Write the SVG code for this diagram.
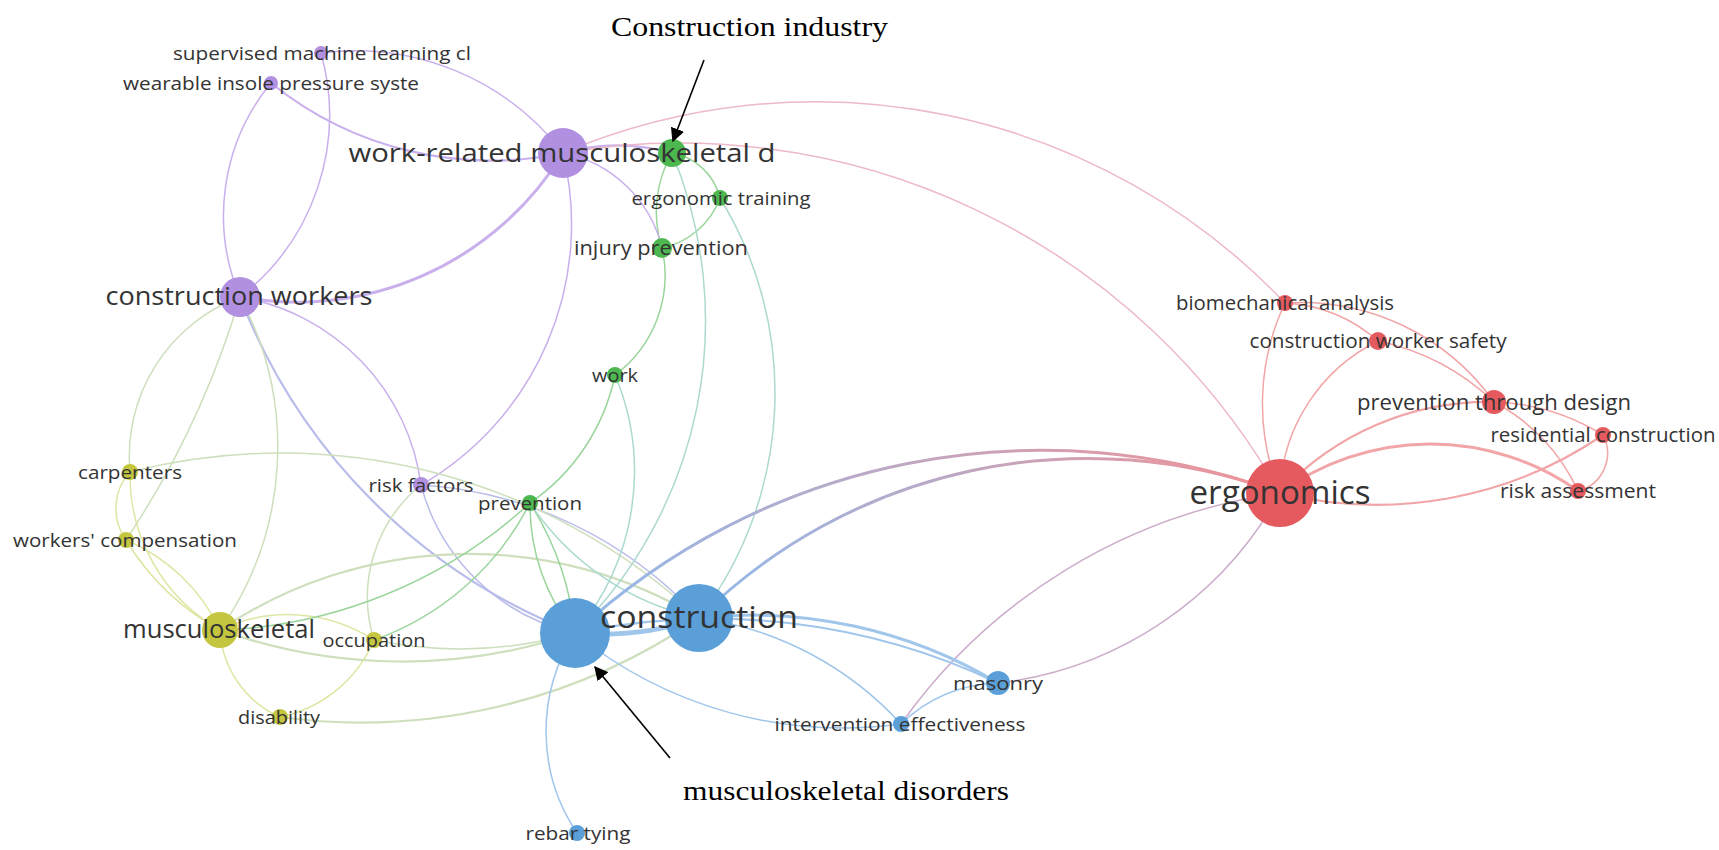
<svg xmlns="http://www.w3.org/2000/svg" width="1719" height="850" viewBox="0 0 1719 850">
<defs>
<style>
.e{fill:none;stroke-width:1.5;stroke-linecap:round}
.p{stroke:#c9b0ec}
.y{stroke:#e0e5a2}
.g{stroke:#9ad59c}
.r{stroke:#f2a5a7}
.b{stroke:#a0c6eb}
.pb{stroke:#b9bdea}
.yb{stroke:#cddfbc}
.gb{stroke:#acd9d0}
.pr{stroke:#edb8c8}
.rb{stroke:#ccaecb}
.w2{stroke-width:2.2}
.w3{stroke-width:3}
.w5{stroke-width:5}
.t{font-family:"Open Sans","DejaVu Sans",sans-serif;fill:#333;text-anchor:middle}
.pn{fill:#b18fe1}
.gn{fill:#4db84f}
.bn{fill:#5b9fd8}
.yn{fill:#c4c640}
.rn{fill:#e45a5f}
.ann{font-family:"Liberation Serif","Times New Roman",serif;fill:#000;font-size:28px}
.arr{stroke:#000;stroke-width:1.6;fill:none}
</style>
<linearGradient id="grb1" gradientUnits="userSpaceOnUse" x1="575" y1="600" x2="1280" y2="500"><stop offset="0" stop-color="#92baea"/><stop offset="1" stop-color="#f09296"/></linearGradient>
<linearGradient id="grb2" gradientUnits="userSpaceOnUse" x1="699" y1="600" x2="1280" y2="500"><stop offset="0" stop-color="#92baea"/><stop offset="1" stop-color="#f09296"/></linearGradient>
<marker id="ah2" viewBox="0 0 10 10" refX="9" refY="5" markerWidth="14" markerHeight="14" markerUnits="userSpaceOnUse" orient="auto"><path d="M0,0 L10,5 L0,10 Z" fill="#000"/></marker>
</defs>
<rect width="1719" height="850" fill="#fff"/>
<g id="connectors">
<path class="e p" d="M321,53 A262,262 0 0 1 563,153"/>
<path class="e p w2" d="M271,83 A350,350 0 0 0 563,153"/>
<path class="e p" d="M321,53 A230,230 0 0 1 240,297"/>
<path class="e p" d="M271,83 A209,209 0 0 0 240,297"/>
<path class="e p w3" d="M563,153 A312,312 0 0 1 240,297"/>
<path class="e p" d="M563,153 A301,301 0 0 1 421,485"/>
<path class="e p" d="M240,297 A220,220 0 0 1 421,485"/>
<path class="e pb w2" d="M240,297 A587,587 0 0 0 575,633"/>
<path class="e yb" d="M240,297 A318,318 0 0 1 220,630"/>
<path class="e yb" d="M240,297 A170,170 0 0 0 130,472"/>
<path class="e yb" d="M240,297 A900,900 0 0 1 126,540"/>
<path class="e pb" d="M421,485 A206,206 0 0 0 575,633"/>
<path class="e pb" d="M421,485 A410,410 0 0 1 699,618"/>
<path class="e yb" d="M421,485 A144,144 0 0 0 374,640"/>
<path class="e y" d="M130,472 A54,54 0 0 0 126,540"/>
<path class="e y" d="M130,472 A178,178 0 0 0 220,630"/>
<path class="e y" d="M126,540 A182,182 0 0 1 220,630"/>
<path class="e y" d="M126,540 A250,250 0 0 0 220,630"/>
<path class="e yb" d="M130,472 A612,612 0 0 1 699,618"/>
<path class="e y" d="M220,630 A101,101 0 0 0 280,717"/>
<path class="e y" d="M220,630 A158,158 0 0 1 374,640"/>
<path class="e yb w2" d="M220,630 A445,445 0 0 1 699,618"/>
<path class="e yb w2" d="M220,630 A540,540 0 0 0 575,633"/>
<path class="e y" d="M280,717 A130,130 0 0 0 374,640"/>
<path class="e yb w2" d="M280,717 A598,598 0 0 0 699,618"/>
<path class="e yb" d="M374,640 A427,427 0 0 0 575,633"/>
<path class="e g" d="M530,503 A280,280 0 0 1 374,640"/>
<path class="e g" d="M530,503 A483,483 0 0 1 220,630"/>
<path class="e g" d="M672,153 A60,60 0 0 1 720,198"/>
<path class="e g" d="M672,153 A118,118 0 0 0 662,248"/>
<path class="e g" d="M720,198 A79,79 0 0 1 662,248"/>
<path class="e g" d="M662,248 A124,124 0 0 1 615,375"/>
<path class="e gb" d="M672,153 A438,438 0 0 1 575,633"/>
<path class="e gb" d="M720,198 A372,372 0 0 1 699,618"/>
<path class="e gb" d="M615,375 A249,249 0 0 1 575,633"/>
<path class="e g" d="M615,375 A205,205 0 0 1 530,503"/>
<path class="e g" d="M530,503 A204,204 0 0 0 575,633"/>
<path class="e g" d="M530,503 A300,300 0 0 1 575,633"/>
<path class="e gb" d="M530,503 A270,270 0 0 0 699,618"/>
<path class="e p w2" d="M563,153 A200,200 0 0 1 672,153"/>
<path class="e p" d="M563,153 A127,127 0 0 1 662,248"/>
<path class="e pr" d="M563,153 A648,648 0 0 1 1285,303"/>
<path class="e pr" d="M563,153 A690,690 0 0 1 1280,493"/>
<path class="e r" d="M1280,493 A236,236 0 0 1 1285,303"/>
<path class="e r" d="M1280,493 A176,176 0 0 1 1378,341"/>
<path class="e r w2" d="M1280,493 A284,284 0 0 1 1494,402"/>
<path class="e r w3" d="M1280,493 A255,255 0 0 1 1578,491"/>
<path class="e r w2" d="M1280,493 A402,402 0 0 0 1603,435"/>
<path class="e r" d="M1285,303 A150,150 0 0 1 1378,341"/>
<path class="e r" d="M1285,303 A237,237 0 0 1 1494,402"/>
<path class="e r" d="M1378,341 A240,240 0 0 1 1494,402"/>
<path class="e r" d="M1494,402 A220,220 0 0 1 1603,435"/>
<path class="e r" d="M1494,402 A190,190 0 0 1 1578,491"/>
<path class="e r" d="M1603,435 A39,39 0 0 1 1578,491"/>
<path class="e rb" d="M1280,493 A370,370 0 0 1 998,683"/>
<path class="e rb" d="M1280,493 A560,560 0 0 0 901,724"/>
<path class="e w3" stroke="url(#grb1)" d="M575,633 A687,687 0 0 1 1280,493"/>
<path class="e w3" stroke="url(#grb2)" d="M699,618 A553,553 0 0 1 1280,493"/>
<path class="e b w3" d="M699,618 A480,480 0 0 1 998,683"/>
<path class="e b w2" d="M575,633 A666,666 0 0 1 998,683"/>
<path class="e b" d="M699,618 A335,335 0 0 1 901,724"/>
<path class="e b" d="M575,633 A425,425 0 0 0 901,724"/>
<path class="e b" d="M998,683 A143,143 0 0 0 901,724"/>
<path class="e b" d="M575,633 A182,182 0 0 0 577,833"/>
<path class="e b w5" d="M575,633 A300,300 0 0 0 699,618"/>
</g>
<g id="n-ci"><circle class="gn" cx="672" cy="153" r="14"/></g>
<g id="n-sml"><circle class="pn" cx="321" cy="53" r="7"/><text class="t" x="322" y="60" font-size="19" textLength="298" lengthAdjust="spacingAndGlyphs">supervised machine learning cl</text></g>
<g id="n-wip"><circle class="pn" cx="271" cy="83" r="7"/><text class="t" x="271" y="90" font-size="19" textLength="296" lengthAdjust="spacingAndGlyphs">wearable insole pressure syste</text></g>
<g id="n-wrm"><circle class="pn" cx="563" cy="153" r="25"/><text class="t" x="562" y="162" font-size="26" textLength="427" lengthAdjust="spacingAndGlyphs">work-related musculoskeletal d</text></g>
<g id="n-et"><circle class="gn" cx="720" cy="198" r="8"/><text class="t" x="721" y="205" font-size="19" textLength="179" lengthAdjust="spacingAndGlyphs">ergonomic training</text></g>
<g id="n-ip"><circle class="gn" cx="662" cy="248" r="10"/><text class="t" x="661" y="255" font-size="20" textLength="174" lengthAdjust="spacingAndGlyphs">injury prevention</text></g>
<g id="n-cw"><circle class="pn" cx="240" cy="297" r="20"/><text class="t" x="239" y="305" font-size="26" textLength="267" lengthAdjust="spacingAndGlyphs">construction workers</text></g>
<g id="n-work"><circle class="gn" cx="615" cy="375" r="8"/><text class="t" x="615" y="382" font-size="19" textLength="46" lengthAdjust="spacingAndGlyphs">work</text></g>
<g id="n-bio"><circle class="rn" cx="1285" cy="303" r="8"/><text class="t" x="1285" y="310" font-size="20" textLength="218" lengthAdjust="spacingAndGlyphs">biomechanical analysis</text></g>
<g id="n-cws"><circle class="rn" cx="1378" cy="341" r="9"/><text class="t" x="1378" y="348" font-size="20" textLength="257" lengthAdjust="spacingAndGlyphs">construction worker safety</text></g>
<g id="n-ptd"><circle class="rn" cx="1494" cy="402" r="12"/><text class="t" x="1494" y="410" font-size="22" textLength="274" lengthAdjust="spacingAndGlyphs">prevention through design</text></g>
<g id="n-rc"><circle class="rn" cx="1603" cy="435" r="8"/><text class="t" x="1603" y="442" font-size="20" textLength="225" lengthAdjust="spacingAndGlyphs">residential construction</text></g>
<g id="n-ra"><circle class="rn" cx="1578" cy="491" r="8"/><text class="t" x="1578" y="498" font-size="20" textLength="156" lengthAdjust="spacingAndGlyphs">risk assessment</text></g>
<g id="n-erg"><circle class="rn" cx="1280" cy="493" r="34"/><text class="t" x="1280" y="504" font-size="32" textLength="181" lengthAdjust="spacingAndGlyphs">ergonomics</text></g>
<g id="n-carp"><circle class="yn" cx="130" cy="472" r="8"/><text class="t" x="130" y="479" font-size="19" textLength="104" lengthAdjust="spacingAndGlyphs">carpenters</text></g>
<g id="n-rf"><circle class="pn" cx="421" cy="485" r="8"/><text class="t" x="421" y="492" font-size="19" textLength="105" lengthAdjust="spacingAndGlyphs">risk factors</text></g>
<g id="n-prev"><circle class="gn" cx="530" cy="503" r="8"/><text class="t" x="530" y="510" font-size="19" textLength="104" lengthAdjust="spacingAndGlyphs">prevention</text></g>
<g id="n-wc"><circle class="yn" cx="126" cy="540" r="8"/><text class="t" x="125" y="547" font-size="19" textLength="224" lengthAdjust="spacingAndGlyphs">workers' compensation</text></g>
<g id="n-musc"><circle class="yn" cx="220" cy="630" r="18"/><text class="t" x="219" y="638" font-size="25" textLength="192" lengthAdjust="spacingAndGlyphs">musculoskeletal</text></g>
<g id="n-occ"><circle class="yn" cx="374" cy="640" r="8"/><text class="t" x="374" y="647" font-size="19" textLength="103" lengthAdjust="spacingAndGlyphs">occupation</text></g>
<g id="n-msd"><circle class="bn" cx="575" cy="633" r="35"/></g>
<g id="n-con"><circle class="bn" cx="699" cy="618" r="34"/><text class="t" x="699" y="628" font-size="31" textLength="198" lengthAdjust="spacingAndGlyphs">construction</text></g>
<g id="n-mas"><circle class="bn" cx="998" cy="683" r="12"/><text class="t" x="998" y="690" font-size="19" textLength="90" lengthAdjust="spacingAndGlyphs">masonry</text></g>
<g id="n-ie"><circle class="bn" cx="901" cy="724" r="8"/><text class="t" x="900" y="731" font-size="19" textLength="251" lengthAdjust="spacingAndGlyphs">intervention effectiveness</text></g>
<g id="n-dis"><circle class="yn" cx="280" cy="717" r="8"/><text class="t" x="279" y="724" font-size="19" textLength="82" lengthAdjust="spacingAndGlyphs">disability</text></g>
<g id="n-rebar"><circle class="bn" cx="577" cy="833" r="8"/><text class="t" x="578" y="840" font-size="19" textLength="105" lengthAdjust="spacingAndGlyphs">rebar tying</text></g>
<g id="annotations">
<text class="ann" x="611" y="36" textLength="277" lengthAdjust="spacingAndGlyphs">Construction industry</text>
<line class="arr" x1="704" y1="60" x2="673" y2="141" marker-end="url(#ah2)"/>
<text class="ann" x="683" y="800" textLength="326" lengthAdjust="spacingAndGlyphs">musculoskeletal disorders</text>
<line class="arr" x1="670" y1="758" x2="595" y2="667" marker-end="url(#ah2)"/>
</g>
</svg>
